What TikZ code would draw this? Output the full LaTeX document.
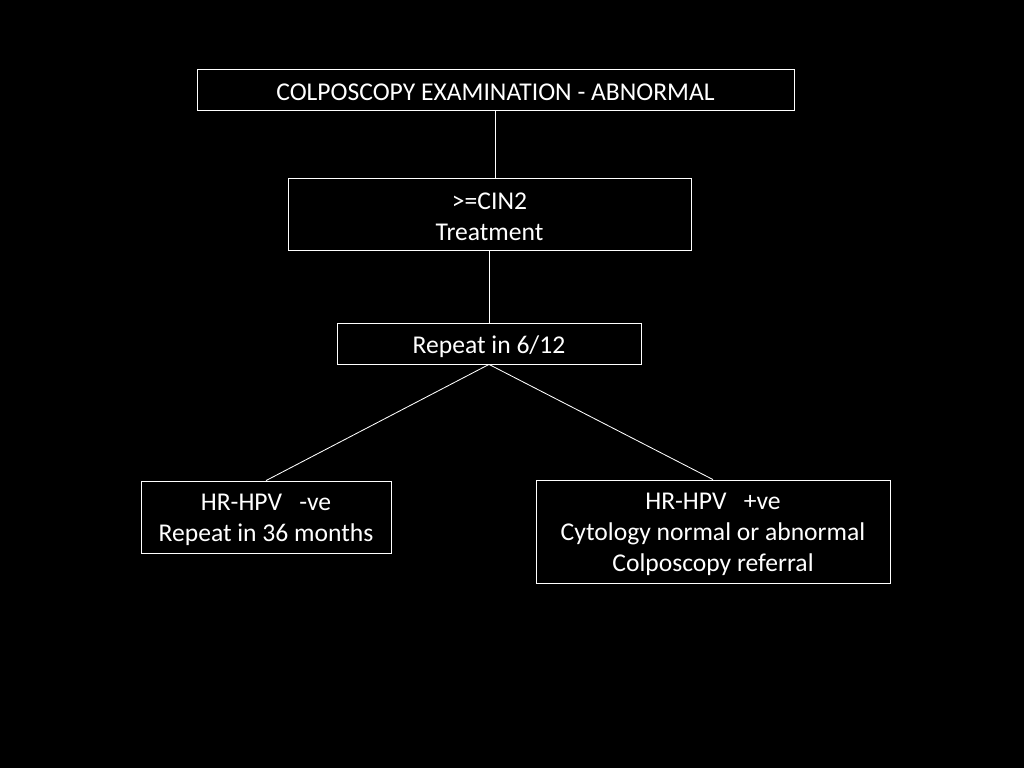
\documentclass[tikz,border=0pt]{standalone}
\usepackage{fontspec}
\setmainfont{Carlito}
\usepackage{xcolor}
\usetikzlibrary{positioning}
\definecolor{slidebg}{RGB}{0,0,0}
\tikzset{
  % frame of a box in the flow chart
  flowbox/.style={
    draw=white,
    line width=0.6pt,
    inner sep=0pt
  },
  % text inside a box
  boxtext/.style={
    text=white,
    align=center,
    inner sep=0pt,
    yshift=-2.2pt,
    font=\fontsize{18.2}{22}\selectfont
  },
  % plain connecting lines
  link/.style={draw=white, line width=0.6pt},
}
\begin{document}
\begin{tikzpicture}[x=0.025cm, y=-0.025cm]
        % Background
        \fill[slidebg] (0,0) rectangle (1024,768);
        \useasboundingbox (0,0) rectangle (1024,768);

        % Boxes
        \node[flowbox, minimum width=597*0.025cm, minimum height=41*0.025cm,
              label={[boxtext]center:{COLPOSCOPY EXAMINATION - ABNORMAL}}] (exam) at (495.5,89.5) {};
        \node[flowbox, minimum width=403*0.025cm, minimum height=72*0.025cm,
              label={[boxtext]center:{>=CIN2\\Treatment}}] (cin) at (489.5,214) {};
        \node[flowbox, minimum width=304*0.025cm, minimum height=41*0.025cm,
              label={[boxtext]center:{Repeat in 6/12}}] (repeat) at (489,343.5) {};
        \node[flowbox, minimum width=250*0.025cm, minimum height=72*0.025cm,
              label={[boxtext]center:{HR-HPV\ \ \ -ve\\Repeat in 36 months}}] (neg) at (266,517) {};
        \node[flowbox, minimum width=354*0.025cm, minimum height=103*0.025cm,
              label={[boxtext]center:{HR-HPV\ \ \ +ve\\Cytology normal or abnormal\\Colposcopy referral}}] (pos) at (713,531.5) {};

        % Lines
        \draw[link] (exam.south) -- (cin.north -| exam.south);
        \draw[link] (repeat.north) -- (cin.south -| repeat.north);
        \draw[link] (repeat.south) -- (neg.north);
        \draw[link] (repeat.south) -- (pos.north);
    \end{tikzpicture}
\end{document}
